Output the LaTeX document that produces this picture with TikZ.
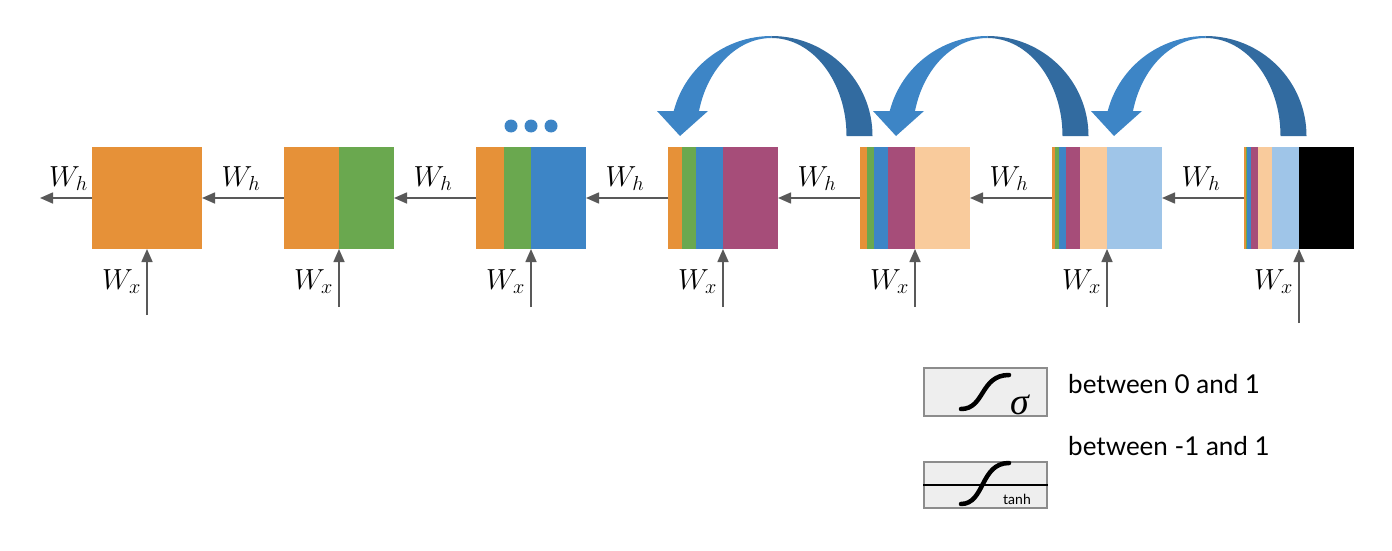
\RequirePackage{fix-cm}
\documentclass[tikz,border=0pt]{standalone}
\usepackage{fontspec}
\newfontfamily\lato{Lato}
\newfontfamily\libserif{Liberation Serif}
\usetikzlibrary{arrows.meta,calc}
\definecolor{c1}{HTML}{E69138}
\definecolor{c2}{HTML}{6AA84F}
\definecolor{c3}{HTML}{3D85C6}
\definecolor{c4}{HTML}{A64D79}
\definecolor{c5}{HTML}{F9CB9C}
\definecolor{c6}{HTML}{9FC5E8}
\definecolor{c7}{HTML}{000000}
\definecolor{conncol}{HTML}{595959}
\definecolor{arrlight}{HTML}{3D85C6}
\definecolor{arrdark}{HTML}{326BA0}
\definecolor{legfill}{HTML}{EEEEEE}
\definecolor{legdraw}{HTML}{8C8C8C}
\begin{document}
\begin{tikzpicture}[x=1pt,y=1pt,
  cell/.style={minimum width=110pt,minimum height=102pt,inner sep=0pt,outer sep=0pt},
  conn/.style={draw=conncol,line width=1.6pt,-{Triangle[length=13pt,width=11pt]}},
  wlab/.style={inner sep=0pt,font=\fontsize{29}{33}\selectfont},
  legbox/.style={draw=legdraw,fill=legfill,line width=1.2pt,minimum width=123pt,minimum height=48pt,inner sep=0pt},
  sigcurve/.style={line width=4.5pt,line cap=round},
  legtext/.style={font=\lato\fontsize{26}{30}\selectfont,inner sep=0pt,anchor=base west},
]
\useasboundingbox (0,0) rectangle (1392,-551);

% cells
\foreach \i in {1,...,7}{
  \node[cell,fill=c\i] (b\i) at ({147+192*(\i-1)},-198) {};
}
\foreach \i in {2,...,7}{
  \foreach \j in {\i,...,1}{
    \pgfmathsetmacro\w{110/2^(\i-\j)}
    \fill[c\j] (b\i.south west) rectangle ++(\w,102);
  }
}

% horizontal connectors
\coordinate (hend) at (40,-198);
\draw[conn] (b1.west) -- (hend);
\foreach \i [evaluate=\i as \p using int(\i-1)] in {2,...,7}{
  \draw[conn] (b\i.west) -- (b\p.east);
}

% vertical inputs
\foreach \i/\yb in {1/315,2/307,3/307,4/307,5/307,6/307,7/323}{
  \coordinate (in\i) at ({147+192*(\i-1)},-\yb);
  \draw[conn] (in\i) -- (b\i.south);
  \node[wlab,anchor=base east] (wx\i) at ({141+192*(\i-1)},-289) {$W_x$};
}

% W_h labels
\node[wlab,anchor=base east] (wh1) at (88,-186) {$W_h$};
\foreach \i in {2,...,7}{
  \node[wlab,anchor=base] (wh\i) at ({192*(\i-1)+49},-186) {$W_h$};
}

% dots
\foreach \dx in {511,531,551}{
  \fill[c3] (\dx,-126) circle (6.5);
}

% curved block arrows
\foreach \cx in {771.5,987.5,1205.5}{
  \fill[arrlight] (\cx,-136) ++(165.5:101 and 100)
     arc[start angle=165.5,end angle=90,x radius=101,y radius=100]
     -- (\cx,-38)
     arc[start angle=90,end angle=165.5,x radius=75,y radius=98] -- cycle;
  \fill[arrdark] (\cx,-36)
     arc[start angle=90,end angle=0,x radius=101,y radius=100]
     -- ++(-26,0)
     arc[start angle=0,end angle=90,x radius=75,y radius=98] -- cycle;
  \fill[arrlight] ($(\cx,-136)+(-114.5,25)$) -- ++(51,0)
     -- ($(\cx,-136)+(-91.5,0)$) -- cycle;
}

% legend
\node[legbox] (lsig) at (985.5,-392) {};
\node[legbox,minimum height=46pt] (ltanh) at (985.5,-485) {};
\draw[line width=1.2pt] (ltanh.west) -- (ltanh.east);
\draw[sigcurve] (961,-409) .. controls (985,-409) and (980,-375) .. (1009,-375);
\draw[sigcurve] (961,-504) .. controls (985,-504) and (980,-463) .. (1009,-463);
\node[inner sep=0pt,anchor=base west,font=\libserif\itshape\fontsize{38}{42}\selectfont] (sg) at (1010,-414) {σ};
\node[inner sep=0pt,font=\lato\fontsize{14}{16}\selectfont] (th) at (1017,-499) {tanh};
\node[legtext] (t1) at (1068,-393) {between 0 and 1};
\node[legtext] (t2) at (1068,-455) {between -1 and 1};
\end{tikzpicture}
\end{document}
